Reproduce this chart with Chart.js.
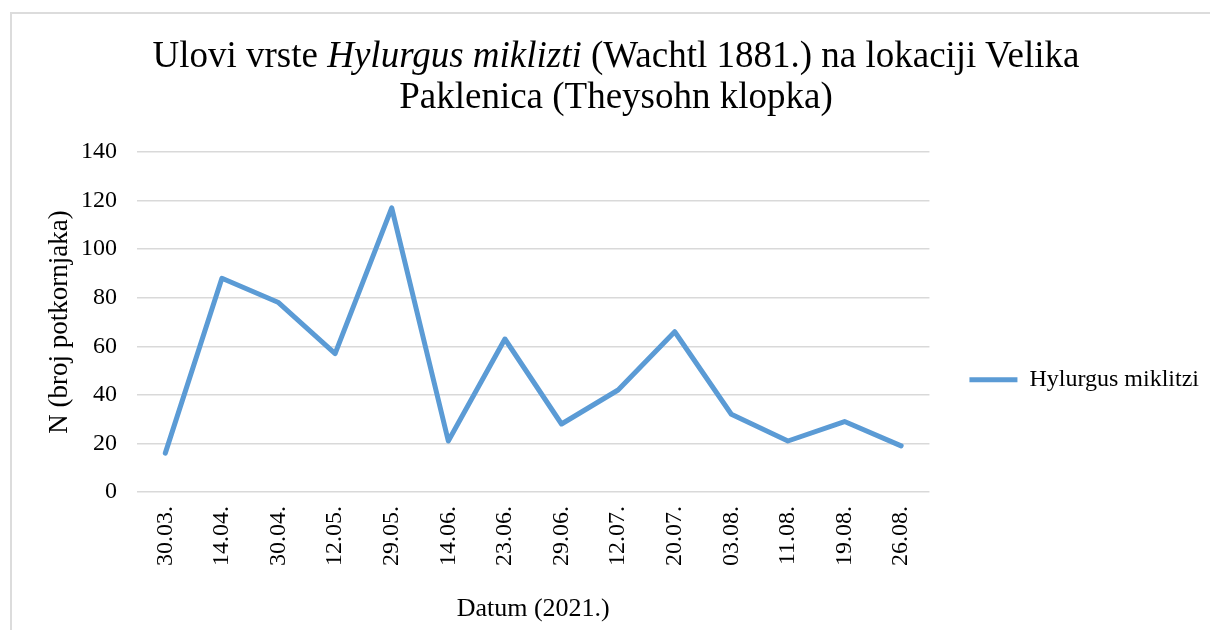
<!DOCTYPE html>
<html>
<head>
<meta charset="utf-8">
<script src="https://cdn.jsdelivr.net/npm/chart.js"></script>
<style>
  body { margin: 0; background: #fff; overflow: hidden; }
  #wrap { position: relative; width: 1210px; height: 630px; }
  #frame { position: absolute; left: 10px; top: 12px; width: 1300px; height: 700px;
           border-left: 2px solid #dcdcdc; border-top: 2px solid #dcdcdc; }
  #title { position: absolute; left: 116px; top: 34px; width: 1000px; text-align: center;
           font-family: "Liberation Serif", "Times New Roman", serif; font-size: 37px;
           line-height: 41px; color: #000; }
  canvas { position: absolute; left: 0; top: 0; }
</style>
</head>
<body>
<div id="wrap">
  <div id="frame"></div>
  <canvas id="myChart" width="1210" height="630"></canvas>
  <div id="title">Ulovi vrste <i>Hylurgus miklizti</i> (Wachtl 1881.) na lokaciji Velika<br>Paklenica (Theysohn klopka)</div>
</div>
<script>
// dates of trap checks (2021.)
var datumi = ["30.03.", "14.04.", "30.04.", "12.05.", "29.05.", "14.06.", "23.06.",
              "29.06.", "12.07.", "20.07.", "03.08.", "11.08.", "19.08.", "26.08."];
// number of beetles caught
var ulovi = [16, 88, 78, 57, 117, 21, 63, 28, 42, 66, 32, 21, 29, 19];
var seriesName = "Hylurgus miklitzi";
var yTicks = [0, 20, 40, 60, 80, 100, 120, 140];

var serif = "'Liberation Serif', 'Times New Roman', serif";

var ctx = document.getElementById('myChart').getContext('2d');
var chart = new Chart(ctx, {
    type: 'line',
    data: {
        labels: datumi,
        datasets: [{
            label: seriesName,
            data: ulovi,
            borderColor: '#5B9BD5',
            backgroundColor: '#5B9BD5',
            borderWidth: 5,
            borderJoinStyle: 'round',
            borderCapStyle: 'round',
            pointRadius: 0,
            pointHoverRadius: 0,
            tension: 0,
            fill: false
        }]
    },
    options: {
        responsive: false,
        animation: false,
        devicePixelRatio: 1,
        layout: { padding: { top: 152, left: 0, right: 1, bottom: 0 } },
        plugins: {
            tooltip: { enabled: false },
            legend: {
                position: 'right',
                fullSize: false,
                // empty title only pushes the entry down a bit
                title: { display: true, text: ' ', padding: { top: 50, bottom: 50 }, font: { size: 13 } },
                labels: {
                    usePointStyle: true,
                    pointStyle: 'line',
                    pointStyleWidth: 48,
                    padding: 40,
                    color: '#000',
                    font: { family: serif, size: 24 }
                }
            }
        },
        scales: {
            x: {
                offset: true,
                grid: { display: false, drawTicks: false },
                border: { display: false },
                ticks: {
                    autoSkip: false,
                    minRotation: 90,
                    maxRotation: 90,
                    padding: 14,
                    color: '#000',
                    font: { family: serif, size: 24 }
                },
                title: {
                    display: true,
                    text: 'Datum (2021.)',
                    color: '#000',
                    font: { family: serif, size: 26 },
                    padding: { top: 4, bottom: 5 }
                },
                afterFit: function (scale) { scale.height = 138; }
            },
            y: {
                min: 0,
                max: 140,
                grid: { color: '#d9d9d9', lineWidth: 1.5, drawTicks: false },
                border: { display: false },
                afterBuildTicks: function (scale) {
                    scale.ticks = yTicks.map(function (v) { return { value: v }; });
                },
                ticks: {
                    padding: 20,
                    color: '#000',
                    font: { family: serif, size: 24 }
                },
                title: {
                    display: true,
                    text: 'N (broj potkornjaka)',
                    color: '#000',
                    font: { family: serif, size: 27 },
                    padding: { top: 44, bottom: 0 }
                },
                afterFit: function (scale) { scale.width = 137; }
            }
        }
    }
});
</script>
</body>
</html>
